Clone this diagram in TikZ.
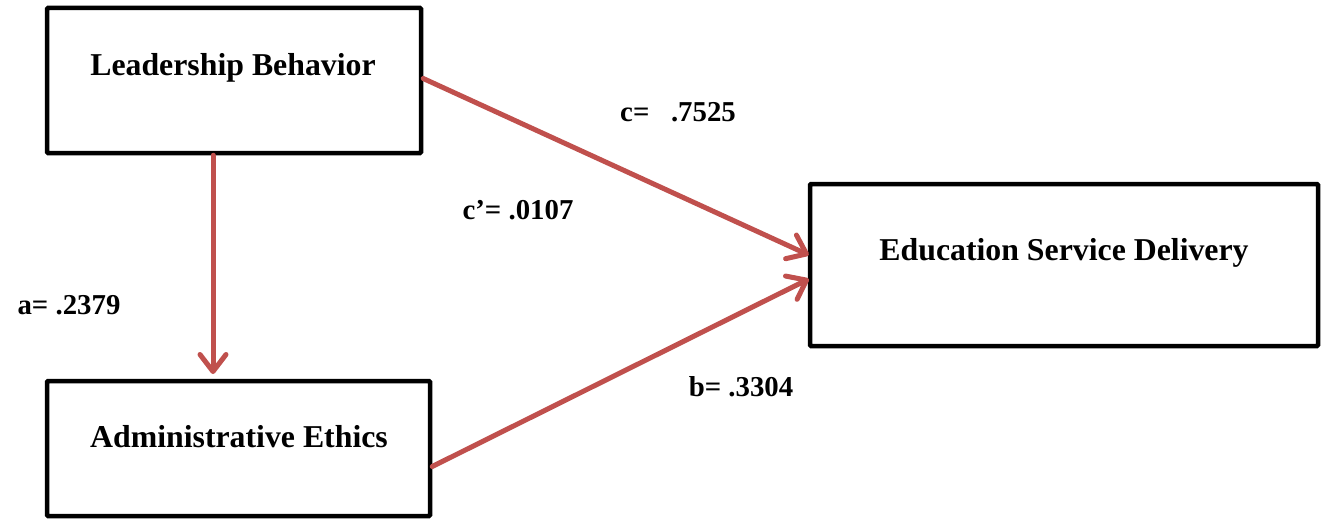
\documentclass[tikz,border=0pt]{standalone}
\usepackage{fontspec}
\setmainfont{Liberation Serif}
\usetikzlibrary{arrows.meta,calc}
\definecolor{arrowred}{HTML}{C0504D}
\begin{document}
\begin{tikzpicture}[x=1pt,y=-1pt,
  box/.style={draw=black,line width=4.5pt,rounded corners=1pt,inner sep=0pt,fill=white},
  boxtext/.style={font=\bfseries\fontsize{31.8}{36}\selectfont,inner sep=0pt,anchor=center},
  lbl/.style={font=\bfseries\fontsize{28.8}{32}\selectfont,inner sep=0pt,anchor=center},
  link/.style={draw=arrowred,line width=5pt,line cap=round,
    -{Straight Barb[length=17pt,width=26pt,line width=5pt,round]}}]
\useasboundingbox (0,0) rectangle (1324,519);
\fill[white] (0,0) rectangle (1324,519);
\node[box,minimum width=374pt,minimum height=145pt] (lb) at (234,80.5) {};
\node[box,minimum width=383pt,minimum height=135pt] (ae) at (238.5,448.5) {};
\node[box,minimum width=508pt,minimum height=162pt] (esd) at (1064,265) {};
\node[boxtext] (lbt) at (233,68) {Leadership Behavior};
\node[boxtext] (aet) at (239,437) {Administrative Ethics};
\node[boxtext] (esdt) at (1064,253) {Education Service Delivery};
\coordinate (aetop) at (213,374);
\coordinate (lbout) at ($(lb.east)+(0,-2)$);
\coordinate (aeout) at ($(ae.east)+(0,18)$);
\coordinate (esdin1) at ($(esd.west)+(1,-10)$);
\coordinate (esdin2) at ($(esd.west)+(1,14)$);
\draw[link] ($(lb.south)+(-21,0)$) -- (aetop);
\draw[link] (lbout) -- (esdin1);
\draw[link] (aeout) -- (esdin2);
\node[lbl] (c) at (678,112) {c=\ \ \ .7525};
\node[lbl] (cp) at (518,210) {c’= .0107};
\node[lbl] (a) at (69,305) {a= .2379};
\node[lbl] (b) at (741,387) {b= .3304};
\end{tikzpicture}
\end{document}
